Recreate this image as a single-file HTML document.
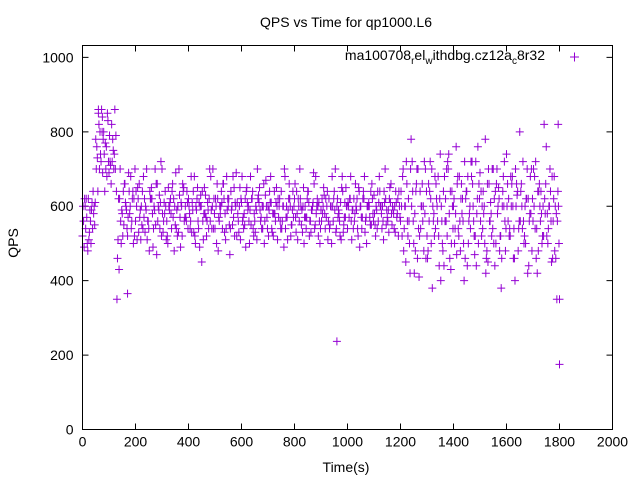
<!DOCTYPE html>
<html><head><meta charset="utf-8"><style>
body{margin:0;background:#fff;}
svg{display:block;font-family:"Liberation Sans",sans-serif;}
</style></head><body>
<svg id="chart" width="640" height="480" xmlns="http://www.w3.org/2000/svg">
<rect width="640" height="480" fill="#fff"/>
<text x="346" y="27" font-size="14" text-anchor="middle">QPS vs Time for qp1000.L6</text>
<text x="346" y="472" font-size="14" text-anchor="middle">Time(s)</text>
<text transform="translate(18,243) rotate(-90)" font-size="14" text-anchor="middle">QPS</text>
<g id="axes"></g>
<g id="points"></g>
<g>
<text x="545" y="60" font-size="14" text-anchor="end">ma100708<tspan font-size="10" dy="4">r</tspan><tspan dy="-4">el</tspan><tspan font-size="10" dy="4">w</tspan><tspan dy="-4">ithdbg.cz12a</tspan><tspan font-size="10" dy="4">c</tspan><tspan dy="-4">8r32</tspan></text>
<path d="M570,57h9M574.5,52.5v9" stroke="#9400d3" stroke-width="1"/>
</g>
<rect x="82.5" y="45.5" width="530" height="384" fill="none" stroke="#000" stroke-width="1"/>
</svg>
<script>
const xTicks=[0,200,400,600,800,1000,1200,1400,1600,1800,2000];
const yTicks=[0,200,400,600,800,1000];
const qpsA=[520,600,480,560,640,780,850,720,800,760,690,820,740,350,620,580,660,520,600,640,
560,620,510,680,590,540,650,600,470,630,700,580,520,610,660,550,600,490,640,570,
620,680,530,590,610,450,650,560,700,600,540,620,580,660,510,600,640,570,690,530,
610,580,650,500,620,560,700,590,540,630,600,680,520,610,570,640,490,600,660,550,
620,580,700,530,600,640,560,610,680,520,590,650,570,620,500,640,600,560,680,610,
540,620,590,660,520,600,640,570,610,550,630,590,680,540,610,570,650,600,530,620,
560,700,450,620,780,500,660,410,600,720,520,640,380,680,560,740,480,620,700,430,
600,760,520,660,400,640,580,720,470,620,690,540,780,450,610,700,500,650,380,600,
740,520,660,460,630,800,540,600,420,680,560,720,480,640,520,760,600,450,680,350];
const qpsB=[600,540,620,500,580,700,820,860,740,680,790,720,860,460,700,520,610,570,680,500,
640,530,600,570,700,480,620,590,660,540,580,640,500,620,570,690,530,610,650,560,
600,530,680,620,490,640,580,610,560,700,620,480,600,660,540,620,590,650,520,600,
680,550,610,590,640,530,620,560,600,670,520,610,580,650,600,540,700,570,620,590,
660,510,620,600,570,640,530,690,580,610,560,630,600,540,680,590,620,520,640,570,
610,680,540,600,650,570,620,500,600,660,580,540,640,600,700,560,610,590,640,520,
640,480,720,560,600,420,700,520,660,580,460,720,600,540,680,400,640,560,740,500,
620,470,680,580,720,440,600,660,520,760,560,640,420,700,580,500,660,620,460,720,
600,540,680,400,640,560,720,500,620,580,700,460,640,580,820,520,600,680,480,560];
const qpsC=[560,620,510,590,600,760,700,800,640,850,720,780,700,510,560,640,600,690,540,620,
600,660,550,620,510,640,580,700,560,610,530,600,650,580,620,540,700,600,560,640,
580,610,520,650,600,560,630,590,680,540,600,570,640,620,680,550,600,520,610,650,
560,620,590,680,540,600,630,570,660,600,590,540,640,600,620,560,680,510,600,640,
570,620,600,650,540,610,590,660,600,560,620,580,640,550,600,700,570,610,530,650,
600,560,620,590,640,540,680,600,570,620,550,640,600,560,620,590,660,580,610,640,
600,540,660,500,720,580,460,640,560,700,480,620,560,660,520,600,440,700,580,640,
500,660,560,620,460,680,540,600,720,500,640,580,460,660,520,620,700,480,600,560,
660,520,600,700,480,640,560,620,440,700,600,540,660,500,620,580,700,460,600,640];
const qpsD=[490,570,530,610,550,730,800,690,770,830,710,750,790,620,500,550,590,640,560,520,
510,570,640,530,560,620,490,550,600,720,560,510,600,540,480,590,630,520,570,610,
540,590,500,560,630,510,570,540,590,620,500,560,610,530,590,470,550,610,580,510,
570,490,600,550,520,590,610,540,500,570,640,530,580,510,560,600,540,590,520,570,
530,600,550,500,570,520,590,540,620,500,580,540,510,600,560,530,590,510,550,600,
570,510,560,620,490,570,530,600,550,580,520,560,600,510,550,530,580,540,570,600,
520,600,560,420,640,480,700,540,600,460,660,500,580,620,440,560,680,520,460,600,
540,680,480,560,620,500,720,560,440,660,520,600,480,560,700,440,580,520,640,480,
560,680,460,600,540,660,500,620,560,480,680,420,600,520,580,500,640,560,460,600];
const qpsE=[620,500,590,540,610,640,740,780,700,720,660,700,640,430,590,660,540,580,620,700,
650,590,540,600,560,620,540,660,590,520,610,560,590,640,600,520,570,660,600,540,
560,640,600,540,600,580,520,620,540,580,660,600,540,580,620,540,680,600,560,620,
540,640,560,620,580,510,650,600,560,540,610,580,560,620,540,600,570,620,550,600,
640,560,590,570,620,560,600,550,600,540,600,620,560,600,620,540,580,650,570,600,
620,590,580,540,600,620,560,600,640,560,600,610,580,640,590,620,550,600,580,570,
680,600,520,700,560,640,540,600,480,640,560,700,520,600,620,500,560,720,640,540,
580,540,620,500,640,560,680,520,580,620,600,500,660,560,540,640,600,520,680,540,
620,600,540,660,560,600,520,700,580,620,540,640,560,600,660,540,560,620,580,500];
const outTimes=[960,1800,1800,1795,170,60,75];
const outVals=[237,175,350,820,365,860,840];
const X0=82.5,X1=612.5,Y0=429.5,Y1=45.5;
function xs(t){return X0+(t/2000)*(X1-X0);}
function ys(v){return Y0-(v/1032)*(Y0-Y1);}
const NS="http://www.w3.org/2000/svg";
const axes=document.getElementById('axes');
const pts=document.getElementById('points');
xTicks.forEach(t=>{
  const p=document.createElementNS(NS,'path');
  const x=xs(t);
  p.setAttribute('d',`M${x},${Y0}v-6M${x},${Y1}v6`);
  p.setAttribute('stroke','#000');
  
  
  axes.appendChild(p);
  const l=document.createElementNS(NS,'text');
  l.setAttribute('x',x);l.setAttribute('y',Y0+17);
  l.setAttribute('font-size','14');l.setAttribute('text-anchor','middle');
  l.textContent=t;
  
  
  axes.appendChild(l);
});
yTicks.forEach(v=>{
  const p=document.createElementNS(NS,'path');
  const y=ys(v);
  p.setAttribute('d',`M${X0},${y}h6M${X1},${y}h-6`);
  p.setAttribute('stroke','#000');
  
  
  axes.appendChild(p);
  const l=document.createElementNS(NS,'text');
  l.setAttribute('x',X0-9);l.setAttribute('y',y+5);
  l.setAttribute('font-size','14');l.setAttribute('text-anchor','end');
  l.textContent=v;
  
  
  axes.appendChild(l);
});
let d='';
function add(t,v){const x=xs(t),y=ys(v);d+=`M${x-4},${y}h8M${x},${y-4}v8`;}
[qpsA,qpsB,qpsC,qpsD,qpsE].forEach((arr,k)=>arr.forEach((v,i)=>add(i*10+k*2,v)));
outTimes.forEach((t,i)=>add(t,outVals[i]));
const path=document.createElementNS(NS,'path');
path.setAttribute('d',d);
path.setAttribute('stroke','#9400d3');
path.setAttribute('stroke-width','1');
path.setAttribute('fill','none');


pts.appendChild(path);
</script>
</body></html>
